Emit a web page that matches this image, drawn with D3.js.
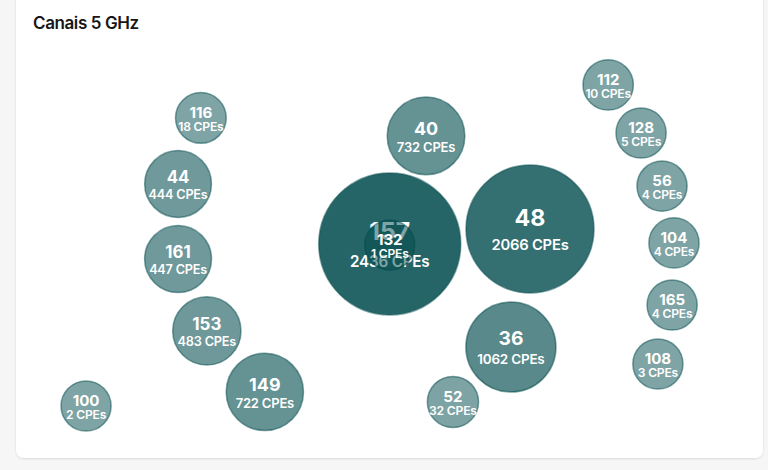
<!DOCTYPE html>
<html>
<head>
<meta charset="utf-8">
<script src="https://cdn.jsdelivr.net/npm/d3@7"></script>
<style>
  html, body { margin: 0; padding: 0; background: #f6f6f6; }
  body { width: 768px; height: 470px; overflow: hidden; font-family: Inter, "Noto Sans", sans-serif; }
</style>
</head>
<body>
<svg id="chart" width="768" height="470"></svg>
<script>
// ---- data ----
const channels = ["157", "48", "40", "36", "52", "132", "116", "44", "161", "153", "149", "100", "112", "128", "56", "104", "165", "108"];
const cpes     = [2436, 2066, 732, 1062, 32, 1, 18, 444, 447, 483, 722, 2, 10, 5, 4, 4, 4, 3];
// layout anchors (percent of plot area) of the packed bubbles
const layoutX = [50.1, 68.85, 54.95, 66.3, 58.55, 50.1, 24.85, 21.8, 21.8, 25.65, 33.4, 9.5, 79.3, 83.7, 86.5, 88.1, 87.85, 85.95];
const layoutY = [48.8, 45.2, 22.95, 73.45, 86.6, 49.05, 18.65, 34.45, 52.4, 69.6, 84.2, 87.55, 10.75, 22.25, 34.95, 48.55, 63.4, 77.5];
const title = "Canais 5 GHz";

const W = 768, H = 470;
const svg = d3.select("#chart");

// card
const defs = svg.append("defs");
const f = defs.append("filter").attr("id", "sh").attr("x", "-5%").attr("y", "-5%").attr("width", "110%").attr("height", "110%");
f.append("feDropShadow").attr("dx", 0).attr("dy", 1).attr("stdDeviation", 1.2).attr("flood-color", "#000").attr("flood-opacity", 0.12);
svg.append("rect").attr("x", 16).attr("y", -20).attr("width", 747).attr("height", 478)
  .attr("rx", 8).attr("fill", "#ffffff").attr("filter", "url(#sh)");

svg.append("text").attr("x", 33).attr("y", 29)
  .attr("font-family", "Inter, sans-serif").attr("font-size", 17).attr("font-weight", 600)
  .attr("fill", "#161616").attr("letter-spacing", "-0.4").text(title);

const data = channels.map((c, i) => ({ ch: c, v: cpes[i], lx: layoutX[i], ly: layoutY[i] }));

const x = d3.scaleLinear().domain([0, 100]).range([15, 763]);
const y = d3.scaleLinear().domain([0, 100]).range([40, 458]);
const vmax = d3.max(cpes);
const r = d3.scaleLinear().domain([0, vmax]).range([25, 71]);
const op = d3.scaleLinear().domain([0, vmax]).range([0.5, 0.85]);
const base = "#004a4c";

const g = svg.append("g");
const node = g.selectAll("g.node").data(data).join("g")
  .attr("class", "node")
  .attr("transform", d => `translate(${x(d.lx)},${y(d.ly)})`);

node.append("circle")
  .attr("r", d => r(d.v))
  .attr("fill", base)
  .attr("fill-opacity", d => op(d.v))
  .attr("stroke", base)
  .attr("stroke-opacity", 0.5)
  .attr("stroke-width", 1.5);

node.append("text")
  .attr("text-anchor", "middle")
  .attr("y", d => -(r(d.v) - 20) * 0.075)
  .attr("fill", "#ffffff")
  .attr("font-weight", 700)
  .attr("font-size", d => 9.8 + 0.21 * r(d.v))
  .text(d => d.ch);

node.append("text")
  .attr("text-anchor", "middle")
  .attr("y", d => 8 + 0.21 * r(d.v))
  .attr("fill", "#ffffff")
  .attr("font-weight", 600)
  .attr("font-size", d => 10.4 + 0.068 * r(d.v))
  .attr("letter-spacing", "-0.2")
  .text(d => d.v + " CPEs");
</script>
</body>
</html>
